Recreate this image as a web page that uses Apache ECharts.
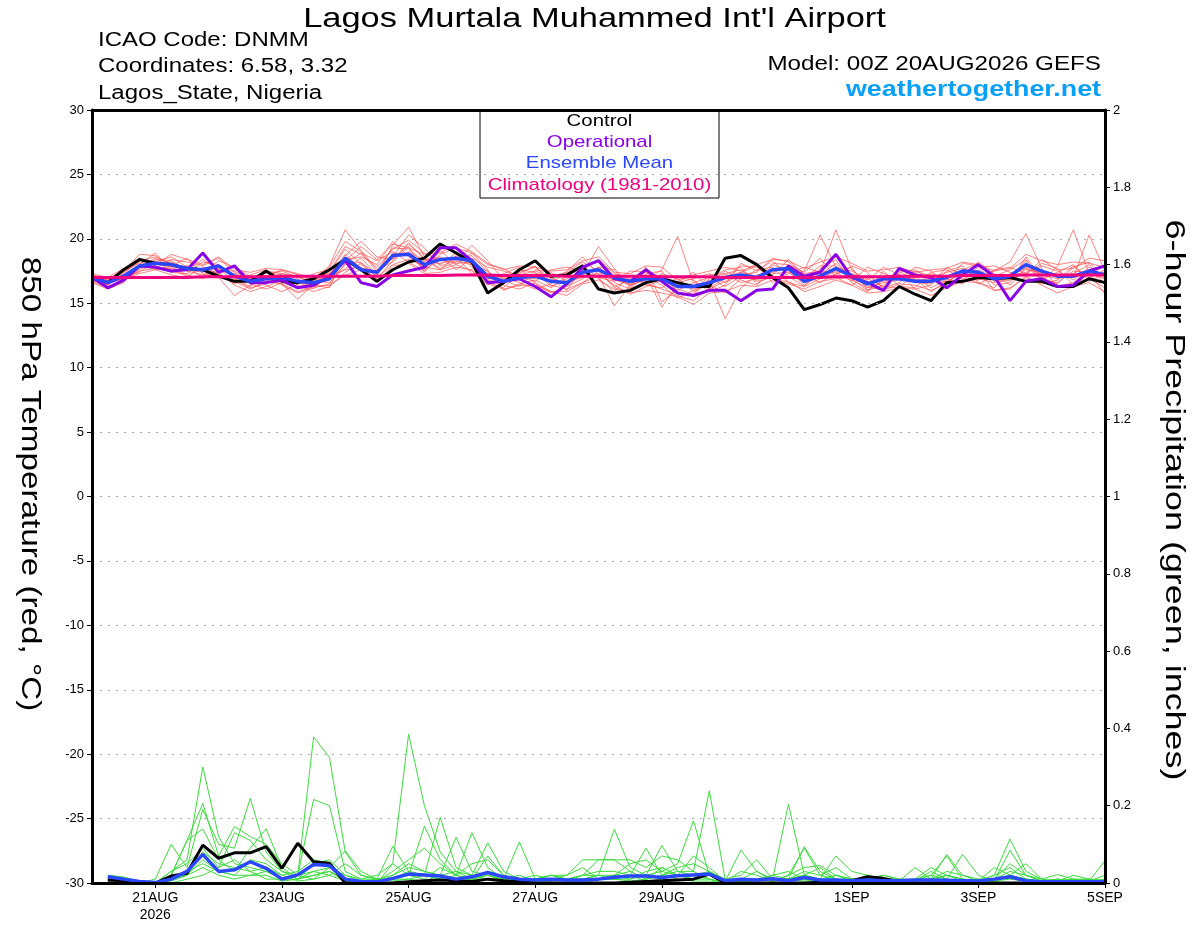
<!DOCTYPE html>
<html>
<head>
<meta charset="utf-8">
<script src="https://cdn.jsdelivr.net/npm/echarts@6/dist/echarts.min.js"></script>
<style>
html,body{margin:0;padding:0;background:#fff;}
#chart{width:1200px;height:927px;}
</style>
</head>
<body>
<div id="chart"></div>
<script>
// ---- Data (6-hourly steps from 00Z 20AUG2026) ----
const STEP_HOURS = 6;
const TICK_HOURS = [24, 72, 120, 168, 216, 288, 336, 384];
const TICK_LABELS = ['21AUG\n2026', '23AUG', '25AUG', '27AUG', '29AUG', '1SEP', '3SEP', '5SEP'];

// 850 hPa temperature (°C), index 0 = 00Z 20AUG
const control = [17.0,16.6,17.6,18.4,18.1,18.0,17.7,17.6,17.1,16.7, 16.7,17.5,16.7,16.6,16.9,17.6,18.4,17.6,16.7,17.6, 18.2,18.5,19.6,18.9,18.2,15.8,16.6,17.6,18.3,17.1, 17.2,17.9,16.1,15.8,16.0,16.6,16.9,16.6,16.3,16.3, 18.5,18.7,18.0,17.0,16.2,14.5,14.9,15.4,15.2,14.7, 15.2,16.3,15.7,15.2,16.6,16.7,17.0,16.9,17.0,16.7, 16.7,16.3,16.3,16.9,16.6];
const operational = [17.0,16.2,16.8,17.9,17.8,17.5,17.6,18.9,17.4,17.9, 16.6,16.6,16.8,16.2,16.4,17.1,18.3,16.6,16.3,17.2, 17.5,17.8,19.3,19.3,18.3,16.6,16.7,16.9,16.3,15.5, 16.5,17.8,18.3,16.9,16.7,17.6,16.7,15.8,15.6,16.0, 16.0,15.2,16.0,16.1,17.9,17.1,17.4,18.8,17.0,16.6, 16.0,17.7,17.2,17.0,16.2,17.2,18.0,17.1,15.2,16.7, 16.9,16.3,16.4,17.5,17.9];
const ensembleMean = [17.0,16.6,17.1,17.9,18.1,18.0,17.7,17.6,17.9,17.1, 16.7,16.9,17.0,16.7,16.6,16.9,18.5,17.6,17.4,18.7, 18.8,18.0,18.4,18.5,18.3,17.1,16.7,17.0,17.1,16.7, 16.6,17.4,17.6,17.0,16.7,16.9,16.9,16.3,16.3,16.6, 17.0,17.2,17.0,17.6,17.7,16.7,17.1,17.7,17.1,16.5, 16.9,16.9,16.7,16.7,17.0,17.5,17.4,16.9,17.1,18.0, 17.5,17.1,17.1,17.5,17.2];
const climatology = [17.0,17.0,17.0,17.0,17.0,17.0,17.0,17.05,17.05,17.05, 17.05,17.05,17.1,17.1,17.1,17.1,17.1,17.1,17.1,17.15, 17.15,17.15,17.15,17.2,17.2,17.2,17.15,17.15,17.15,17.15, 17.1,17.1,17.1,17.1,17.1,17.1,17.05,17.05,17.05,17.05, 17.0,17.0,17.0,17.0,17.0,17.0,17.0,17.05,17.05,17.05, 17.05,17.1,17.1,17.1,17.1,17.15,17.15,17.15,17.15,17.2, 17.2,17.2,17.2,17.2,17.2];

const tempMembers = [
[16.9,16.4,17.3,18.3,18.6,18.1,17.5,17.2,17.6,16.8, 16.2,16.5,17.3,16.9,16.1,17.4,19.2,18.0,17.1,19.5, 20.9,18.6,18.0,18.9,17.8,16.6,16.2,17.4,17.8,16.9, 16.0,17.8,18.2,16.6,16.1,17.3,17.5,15.8,15.6,16.9, 17.6,17.8,16.5,17.2,18.4,17.2,16.6,17.3,17.8,16.0, 16.4,17.6,17.1,16.2,16.8,18.1,17.9,16.4,16.6,18.6, 17.0,16.5,17.8,18.2,16.8],
[17.1,16.8,16.9,17.5,17.7,18.4,18.2,17.9,18.5,17.4, 16.5,16.1,16.6,16.2,16.9,17.9,20.7,19.1,17.6,18.2, 19.4,17.4,18.8,19.3,18.9,17.6,16.0,16.5,16.8,16.2, 17.1,18.0,16.9,15.9,17.2,16.4,16.2,17.0,16.8,15.9, 16.4,18.1,17.5,18.3,17.1,16.3,17.7,18.4,16.6,15.9, 17.5,16.3,16.2,17.4,17.6,16.9,16.8,17.6,17.8,17.3, 18.1,17.7,16.4,17.0,17.6],
[16.7,16.2,16.7,18.0,18.9,17.6,17.1,17.8,17.3,16.5, 17.2,17.6,16.4,15.8,16.2,16.5,18.1,18.9,18.3,19.0, 18.2,17.5,19.1,18.0,17.5,16.4,17.3,17.8,16.5,15.8, 16.3,16.9,17.8,17.6,16.2,17.8,15.1,16.1,15.7,17.2, 17.3,16.6,16.9,18.1,18.0,17.4,18.5,17.0,16.4,17.2, 16.2,16.6,17.5,17.1,16.3,17.0,18.2,17.3,16.4,17.8, 16.9,17.4,18.0,16.7,17.3],
[17.2,16.9,17.5,18.1,17.6,17.9,18.5,17.3,17.0,15.6, 16.4,17.1,17.6,17.3,16.8,17.1,17.6,17.8,16.9,18.3, 19.6,18.5,17.7,18.2,19.5,18.3,16.8,16.3,17.6,17.4, 16.7,17.0,17.3,16.4,15.7,16.3,16.8,16.6,17.4,16.1, 16.7,17.4,17.9,16.6,17.3,17.8,17.4,20.7,17.6,16.6, 16.9,17.3,16.1,16.4,17.5,17.9,16.6,16.2,17.3,17.9, 17.2,16.9,17.3,18.0,16.4],
[16.8,16.5,17.0,17.4,18.2,18.6,17.8,17.0,17.5,17.3, 17.0,16.4,15.9,16.5,17.3,17.6,18.4,18.6,18.0,19.8, 18.6,17.8,17.6,18.7,18.1,17.2,17.0,16.6,16.1,16.5, 17.5,18.6,17.2,16.8,16.5,17.1,16.4,15.4,16.0,16.4, 15.8,16.9,17.6,17.8,16.6,16.3,16.9,17.5,17.3,16.8, 17.8,17.2,16.9,15.9,16.7,17.3,17.0,17.5,18.2,20.4, 17.7,16.3,16.6,17.6,17.9],
[17.0,16.7,17.6,18.5,17.9,17.4,17.3,18.2,18.0,16.9, 16.3,17.4,17.2,16.4,15.9,16.3,17.4,18.1,17.3,18.5, 19.0,18.3,18.6,17.6,18.5,17.8,17.5,17.1,16.9,17.0, 16.4,17.6,18.4,17.3,16.9,16.6,17.3,16.9,15.9,16.8, 13.8,16.2,17.2,17.4,17.9,16.9,17.9,17.9,16.8,16.2, 16.6,16.8,17.0,17.3,16.9,16.5,17.6,16.8,17.0,18.3, 16.6,17.9,20.7,17.3,16.9],
[16.9,16.3,16.8,17.7,18.4,18.3,17.6,17.4,18.3,17.8, 17.1,16.8,16.5,15.3,16.5,17.5,19.4,18.8,17.8,19.2, 19.9,18.9,18.3,18.6,17.3,16.8,16.5,17.3,17.9,16.4, 16.1,16.6,17.1,14.8,16.4,17.5,17.0,16.0,16.6,16.3, 17.3,17.6,16.7,17.0,16.9,17.5,20.3,17.8,17.5,16.9, 16.3,16.2,17.3,17.0,17.4,17.7,16.9,16.6,16.8,17.6, 17.4,17.2,17.0,20.3,17.5],
[17.1,16.6,17.2,17.9,17.8,17.7,17.9,17.6,17.1,16.6, 16.9,17.3,17.5,17.0,16.7,16.6,18.0,18.2,17.0,18.0, 18.4,17.9,19.4,19.0,18.0,16.9,17.1,16.8,17.3,17.1, 17.4,18.2,17.5,16.3,16.8,17.2,14.7,16.5,16.1,16.6, 17.5,16.8,16.4,18.0,17.5,16.4,17.2,18.1,16.9,16.0, 16.8,17.5,16.6,16.5,17.8,17.2,16.5,17.1,17.6,18.4, 16.8,16.6,17.5,17.4,15.7],
[16.8,16.4,17.4,18.2,18.0,18.2,17.5,17.7,17.8,17.0, 16.6,16.6,16.9,16.6,16.4,17.2,18.8,17.7,17.5,19.3, 19.2,18.2,18.1,18.4,18.7,17.4,16.6,17.6,17.4,16.3, 16.9,17.3,19.4,17.7,16.4,16.8,17.6,20.2,16.6,17.0, 16.3,17.1,16.8,17.3,17.4,16.6,17.0,17.2,17.9,17.4, 16.1,17.4,17.6,16.8,16.6,17.6,18.1,16.7,16.9,17.4, 17.9,17.5,16.8,17.8,17.1],
[17.0,16.8,16.8,17.6,18.3,17.5,17.9,17.5,17.7,17.2, 16.8,16.9,17.0,16.6,16.5,16.8,17.7,18.5,17.2,18.9, 18.7,17.6,18.4,18.1,18.2,16.9,16.9,17.2,17.5,17.0, 16.4,17.2,17.8,16.9,16.4,16.9,17.2,16.3,16.4,16.5, 17.1,17.4,17.1,17.7,17.6,17.0,17.3,17.6,17.3,16.6, 16.7,17.1,16.8,16.9,17.1,17.4,17.3,16.9,17.2,17.7, 17.3,17.2,17.2,17.3,17.4],
[16.6,16.1,16.6,17.8,18.5,17.8,17.2,16.9,17.4,16.4, 15.9,16.3,16.8,16.2,16.6,17.8,19.8,19.0,17.4,18.6, 20.3,19.3,17.9,18.3,18.0,17.5,16.4,16.1,16.6,15.9, 15.9,16.6,17.5,16.2,15.9,16.5,16.1,15.6,15.2,16.2, 16.9,17.9,17.8,16.9,16.5,16.1,16.7,16.9,17.0,16.3, 16.0,16.5,16.4,16.0,16.5,17.6,17.5,16.0,16.2,17.0, 16.5,16.8,17.9,16.9,16.2],
[17.3,17.0,17.7,18.4,18.0,18.8,18.4,18.0,18.6,17.6, 17.4,17.7,17.6,17.2,17.1,17.3,18.3,19.4,18.4,19.6, 19.3,18.8,18.9,19.6,19.0,18.1,17.6,17.9,17.8,17.5, 17.6,18.3,18.6,17.4,17.3,17.9,17.8,16.8,17.2,17.5, 17.8,17.5,18.0,18.4,18.3,17.7,18.2,18.6,18.1,17.5, 17.6,17.8,17.4,17.6,17.7,18.2,18.0,17.5,17.7,18.8, 18.3,18.0,18.2,18.1,17.8],
[16.8,16.5,16.9,17.3,17.6,17.2,17.0,17.1,17.2,16.7, 16.1,16.7,16.5,15.9,16.3,16.4,17.2,17.6,16.7,17.9, 18.1,17.3,17.4,17.8,17.6,16.5,16.1,16.4,16.4,15.9, 15.6,16.5,16.8,16.1,15.8,16.0,15.8,15.5,14.9,15.8, 15.9,16.4,16.3,16.8,16.7,15.9,16.3,16.8,16.4,15.8, 15.9,16.2,16.1,15.6,16.2,16.7,16.6,16.0,16.1,17.1, 16.4,15.8,16.3,16.6,15.9],
[17.0,16.7,17.5,18.8,18.7,17.9,17.6,18.4,17.6,17.5, 16.9,17.5,17.3,17.1,16.4,16.2,18.7,19.8,18.6,18.4, 19.7,18.4,17.6,18.0,18.9,18.0,17.7,17.0,16.7,17.6, 17.8,17.5,17.0,16.7,17.5,17.4,16.7,16.6,16.9,17.3, 16.6,17.2,17.4,18.5,18.2,17.3,17.5,17.4,16.7,17.8, 17.3,16.9,17.8,17.5,16.6,16.8,17.8,17.9,17.4,17.2, 18.4,17.6,17.7,18.5,18.3]
];

// 6-hour precipitation (inches), index 0 = 06Z 20AUG
const controlPrecip = [0.008,0.006,0.002,0,0.018,0.025,0.098,0.064, 0.078,0.078,0.094,0.038,0.103,0.055,0.051,0, 0,0,0,0.003,0.006,0.008,0.006,0.004, 0.01,0.006,0.003,0,0,0,0,0, 0,0.002,0.004,0.006,0.008,0.01,0.023,0, 0,0,0,0,0,0.002,0.004,0.006, 0.016,0.012,0.004,0,0,0,0,0, 0,0,0,0,0,0,0,0];
const meanPrecip = [0.016,0.01,0.004,0.001,0.01,0.03,0.074,0.03, 0.034,0.055,0.038,0.01,0.021,0.048,0.045,0.01, 0.004,0.003,0.012,0.023,0.021,0.018,0.01,0.016, 0.027,0.016,0.01,0.008,0.01,0.008,0.008,0.01, 0.015,0.018,0.018,0.014,0.019,0.021,0.023,0.006, 0.01,0.008,0.011,0.006,0.014,0.008,0.008,0.006, 0.008,0.006,0.006,0.008,0.008,0.007,0.006,0.005, 0.01,0.016,0.006,0.003,0.003,0.003,0.003,0.003];
const precipMembers = [
[0.02,0.015,0,0,0.03,0.06,0.30,0.12, 0.05,0.04,0.03,0.01,0.01,0.02,0.03,0.01, 0,0,0.05,0.385,0.2,0.08,0.03,0.01, 0.02,0.01,0,0.005,0.01,0.005,0,0.01, 0.02,0.03,0.01,0.04,0.02,0.01,0.01,0, 0,0.01,0.005,0.02,0.09,0.02,0.01,0.01, 0.01,0.02,0.01,0.005,0.01,0.02,0.01,0.005, 0,0.02,0.05,0.01,0,0.005,0,0.01],
[0.015,0.01,0,0,0.01,0.02,0.06,0.03, 0.02,0.02,0.03,0.01,0.02,0.378,0.325,0.08, 0.02,0.01,0.01,0.03,0.02,0.01,0.02,0.01, 0.01,0,0.005,0.01,0.02,0.01,0.01,0.02, 0.01,0.01,0.02,0.03,0.05,0.161,0.02,0, 0.01,0.005,0.02,0.03,0.01,0.005,0.02,0.01, 0.005,0.01,0,0.005,0.02,0.07,0.01,0.005, 0.02,0.114,0.03,0.01,0.005,0.01,0.005,0],
[0.01,0.01,0,0,0.02,0.11,0.206,0.07, 0.146,0.12,0.1,0.05,0.02,0.216,0.20,0.03, 0.01,0.02,0.05,0.02,0.147,0.06,0.02,0.13, 0.04,0.01,0.01,0.005,0.01,0.02,0.06,0.06, 0.06,0.03,0.01,0.02,0.03,0.03,0.239,0.01, 0.005,0.01,0.01,0.01,0.02,0.01,0.005,0.01, 0.01,0.005,0,0.01,0.02,0.01,0.005,0.01, 0.005,0.085,0.02,0.005,0.01,0.005,0.01,0.005],
[0.02,0.01,0,0.01,0.10,0.04,0.19,0.10, 0.09,0.219,0.08,0.03,0.01,0.05,0.06,0.02, 0.005,0.01,0.095,0.03,0.02,0.17,0.04,0.02, 0.104,0.03,0.01,0.005,0.01,0.01,0.02,0.02, 0.139,0.04,0.02,0.097,0.03,0.02,0.03,0.005, 0.085,0.03,0.01,0.204,0.02,0.01,0.07,0.03, 0.02,0.01,0.005,0.04,0.01,0.074,0.02,0.005, 0.01,0.05,0.02,0.01,0.022,0.01,0.005,0.058],
[0.01,0.005,0,0,0.02,0.11,0.14,0.06, 0.03,0.09,0.14,0.04,0.01,0.03,0.04,0.083, 0.03,0.01,0.02,0.05,0.03,0.02,0.118,0.03, 0.02,0.01,0.106,0.01,0.005,0.01,0.02,0.03, 0.03,0.02,0.09,0.02,0.04,0.05,0.03,0.01, 0.02,0.06,0.01,0.01,0.094,0.03,0.01,0.005, 0.01,0.02,0.01,0.005,0.03,0.01,0.074,0.02, 0.005,0.02,0.01,0.005,0.005,0.02,0.01,0.005],
[0.005,0.005,0,0,0.03,0.05,0.09,0.04, 0.13,0.11,0.06,0.03,0.02,0.01,0.04,0.02, 0.01,0.01,0.01,0.02,0.01,0.04,0.02,0.05, 0.06,0.02,0.01,0.02,0.01,0.005,0.02,0.06, 0.06,0.06,0.04,0.07,0.06,0.03,0.01,0, 0.01,0.01,0.005,0.01,0.03,0.02,0.04,0.01, 0.005,0.01,0.01,0.01,0.005,0.02,0.01,0.005, 0.02,0.04,0.01,0.005,0.01,0.005,0.005,0.01],
[0.01,0.01,0,0,0.01,0.03,0.05,0.03, 0.02,0.06,0.05,0.02,0.03,0.06,0.05,0.01, 0.005,0.005,0.03,0.06,0.09,0.05,0.02,0.01, 0.07,0.02,0.005,0.01,0.02,0.02,0.04,0.01, 0.02,0.05,0.06,0.03,0.02,0.07,0.04,0.005, 0.03,0.02,0.005,0.02,0.04,0.045,0.02,0.01, 0.01,0.01,0.005,0.005,0.01,0.03,0.02,0.01, 0.01,0.03,0.02,0.005,0.005,0.01,0.01,0.005],
[0.02,0.015,0.005,0,0.005,0.02,0.04,0.02, 0.01,0.02,0.02,0.005,0.01,0.02,0.03,0.005, 0,0.005,0.01,0.01,0.02,0.01,0.005,0.01, 0.02,0.005,0,0.005,0.01,0.005,0.005,0.01, 0.01,0.02,0.005,0.01,0.005,0.02,0.01,0, 0.005,0.005,0.01,0.005,0.01,0.01,0.005,0.005, 0.005,0.005,0,0.005,0.01,0.005,0.005,0, 0.005,0.01,0.005,0,0.005,0.005,0,0.005],
[0.005,0.005,0,0,0.01,0.02,0.08,0.05, 0.04,0.03,0.04,0.02,0.005,0.01,0.02,0.005, 0.005,0,0.02,0.04,0.03,0.02,0.01,0.005, 0.01,0.01,0.02,0.005,0.005,0.01,0.01,0.02, 0.02,0.01,0.03,0.04,0.02,0.01,0.02,0, 0.01,0.03,0.005,0.01,0.02,0.04,0.01,0.005, 0.02,0.01,0.005,0.01,0.04,0.02,0.005,0, 0.01,0.02,0.005,0.005,0.01,0.005,0.005,0.02],
[0.01,0.01,0,0,0,0.01,0.02,0.04, 0.06,0.03,0.01,0.01,0.02,0.03,0.02,0.05, 0.02,0.01,0.005,0.01,0.005,0.02,0.03,0.02, 0.01,0.005,0.01,0.01,0.02,0.01,0.005,0.01, 0.01,0.005,0.01,0.02,0.01,0.005,0.005,0, 0.005,0.01,0.02,0.01,0.005,0.01,0.02,0.005, 0.01,0.005,0.005,0.01,0.005,0.005,0.01,0.005, 0.04,0.02,0.01,0.005,0.005,0.005,0.01,0.005]
];

// ---- Build series ----
const FONT = '"Liberation Sans", Arial, Helvetica, sans-serif';
const tempPairs = arr => arr.map((v, i) => [i * STEP_HOURS, v]);
const precipPairs = arr => arr.map((v, i) => [(i + 1) * STEP_HOURS, v]);

const series = [];
tempMembers.forEach((m, k) => series.push({
  name: 'member' + k, type: 'line', yAxisIndex: 0, data: tempPairs(m),
  showSymbol: false, silent: true, z: 2,
  lineStyle: { color: 'rgba(255,70,70,0.75)', width: 0.9 }
}));
precipMembers.forEach((m, k) => series.push({
  name: 'pmember' + k, type: 'line', yAxisIndex: 1, data: precipPairs(m),
  showSymbol: false, silent: true, z: 2,
  lineStyle: { color: 'rgb(60,220,60)', width: 1 }
}));
series.push({ name: 'Control precip', type: 'line', yAxisIndex: 1, data: precipPairs(controlPrecip),
  showSymbol: false, silent: true, z: 3, lineStyle: { color: '#000', width: 3 } });
series.push({ name: 'Ensemble mean precip', type: 'line', yAxisIndex: 1, data: precipPairs(meanPrecip),
  showSymbol: false, silent: true, z: 4, lineStyle: { color: '#2a46ff', width: 3.5 } });
series.push({ name: 'Control', type: 'line', yAxisIndex: 0, data: tempPairs(control),
  showSymbol: false, silent: true, z: 3, lineStyle: { color: '#000', width: 3 } });
series.push({ name: 'Operational', type: 'line', yAxisIndex: 0, data: tempPairs(operational),
  showSymbol: false, silent: true, z: 4, lineStyle: { color: '#8a00e6', width: 3 } });
series.push({ name: 'Ensemble Mean', type: 'line', yAxisIndex: 0, data: tempPairs(ensembleMean),
  showSymbol: false, silent: true, z: 5, lineStyle: { color: '#2a46ff', width: 3.5 } });
series.push({ name: 'Climatology (1981-2010)', type: 'line', yAxisIndex: 0, data: tempPairs(climatology),
  showSymbol: false, silent: true, z: 6, lineStyle: { color: '#f0007f', width: 3 } });

// text helper for header / axis titles (reference font is horizontally wide)
function label(text, x, y, size, opts) {
  opts = opts || {};
  return {
    type: 'text', x: x, y: y, rotation: opts.rotation || 0, scaleX: opts.scaleX || 1, z: 100,
    style: { text: text, fill: opts.color || '#000',
      font: (opts.bold ? 'bold ' : '') + size + 'px ' + FONT,
      textAlign: opts.align || 'left', textVerticalAlign: 'middle' }
  };
}

const chart = echarts.init(document.getElementById('chart'), null, { renderer: 'canvas' });
const option = {
  animation: false,
  backgroundColor: '#fff',
  textStyle: { fontFamily: FONT },
  grid: { left: 92, right: 95, top: 110, bottom: 44, containLabel: false, outerBoundsMode: 'none' },
  xAxis: [
    { type: 'value', min: 0, max: 384, position: 'bottom', z: 10,
      axisLine: { show: true, onZero: false, lineStyle: { color: '#000', width: 3 } },
      axisTick: { show: true, length: 5, customValues: TICK_HOURS, lineStyle: { color: '#000', width: 1 } },
      axisLabel: { show: true, customValues: TICK_HOURS, margin: 7, color: '#000', fontSize: 14, lineHeight: 17,
        fontFamily: FONT, formatter: v => TICK_LABELS[TICK_HOURS.indexOf(v)] || '' },
      splitLine: { show: false } },
    { type: 'value', min: 0, max: 384, position: 'top', z: 10,
      axisLine: { show: true, onZero: false, lineStyle: { color: '#000', width: 3 } },
      axisTick: { show: false }, axisLabel: { show: false }, splitLine: { show: false } }
  ],
  yAxis: [
    { type: 'value', min: -30, max: 30, interval: 5, position: 'left', z: 10,
      axisLine: { show: true, onZero: false, lineStyle: { color: '#000', width: 3 } },
      axisTick: { show: true, length: 5, lineStyle: { color: '#000', width: 1 } },
      axisLabel: { color: '#000', fontSize: 13, margin: 8, fontFamily: FONT },
      splitLine: { show: true, lineStyle: { color: '#a8a8a8', width: 1.2, type: [2, 6] } } },
    { type: 'value', min: 0, max: 2, interval: 0.2, position: 'right', z: 10,
      axisLine: { show: true, onZero: false, lineStyle: { color: '#000', width: 3 } },
      axisTick: { show: true, length: 5, lineStyle: { color: '#000', width: 1 } },
      axisLabel: { color: '#000', fontSize: 13, margin: 8, fontFamily: FONT },
      splitLine: { show: false } }
  ],
  graphic: [
    label("Lagos Murtala Muhammed Int'l Airport", 594.5, 19, 28, { align: 'center', scaleX: 1.23 }),
    label('ICAO Code: DNMM', 98, 40, 20, { scaleX: 1.2 }),
    label('Coordinates: 6.58, 3.32', 98, 66, 20, { scaleX: 1.2 }),
    label('Lagos_State, Nigeria', 98, 93, 20, { scaleX: 1.2 }),
    label('Model: 00Z 20AUG2026 GEFS', 1101, 64, 20, { align: 'right', scaleX: 1.21 }),
    label('weathertogether.net', 1101, 90, 22, { align: 'right', scaleX: 1.22, bold: true, color: '#0aa0f8' }),
    label('850 hPa Temperature (red, °C)', 29, 484, 27, { align: 'center', scaleX: 1.23, rotation: -Math.PI / 2 }),
    label('6-hour Precipitation (green, inches)', 1173, 500, 27, { align: 'center', scaleX: 1.33, rotation: -Math.PI / 2 }),
    { type: 'group', x: 480, y: 110, z: 100, children: [
      { type: 'rect', shape: { x: 0, y: 0, width: 239, height: 88 },
        style: { fill: '#fff', stroke: '#000', lineWidth: 1 } },
      label('Control', 119.5, 11, 17, { align: 'center', scaleX: 1.2 }),
      label('Operational', 119.5, 32, 17, { align: 'center', scaleX: 1.2, color: '#8a00e6' }),
      label('Ensemble Mean', 119.5, 53, 17, { align: 'center', scaleX: 1.2, color: '#2a46ff' }),
      label('Climatology (1981-2010)', 119.5, 75, 17, { align: 'center', scaleX: 1.2, color: '#f0007f' })
    ] }
  ],
  series: series
};
chart.setOption(option);
</script>
</body>
</html>
